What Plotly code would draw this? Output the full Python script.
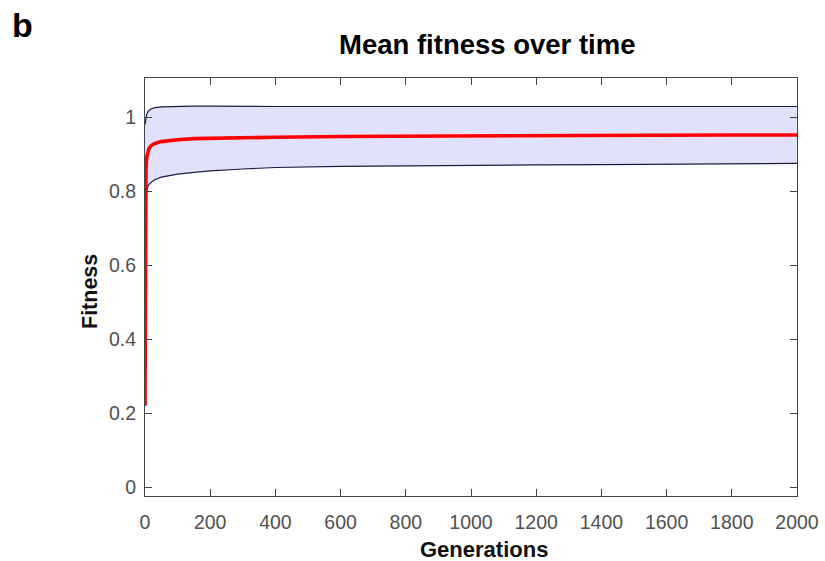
import plotly.graph_objects as go

# Data
generations = [0, 1, 2, 3, 5, 8, 12, 20, 30, 50, 75, 100, 150, 200, 300, 400,
               600, 800, 1000, 1200, 1400, 1600, 1800, 2000]
mean_fitness = [0.22, 0.65, 0.80, 0.855, 0.89, 0.906, 0.915, 0.924, 0.929, 0.934,
                0.937, 0.939, 0.942, 0.943, 0.945, 0.946, 0.948, 0.949, 0.950,
                0.950, 0.951, 0.951, 0.952, 0.952]
upper_band = [0.98, 0.99, 0.995, 1.0, 1.007, 1.013, 1.018, 1.023, 1.026, 1.028,
              1.029, 1.030, 1.030, 1.030, 1.029, 1.029, 1.029, 1.029, 1.029,
              1.029, 1.029, 1.029, 1.029, 1.029]
lower_band = [0.755, 0.765, 0.778, 0.788, 0.801, 0.811, 0.818, 0.825, 0.831, 0.838,
              0.843, 0.846, 0.851, 0.855, 0.86, 0.864, 0.867, 0.869, 0.870,
              0.871, 0.872, 0.873, 0.874, 0.875]

x_ticks = [0, 200, 400, 600, 800, 1000, 1200, 1400, 1600, 1800, 2000]
y_ticks = [0, 0.2, 0.4, 0.6, 0.8, 1]
y_ticktext = ["0", "0.2", "0.4", "0.6", "0.8", "1"]

FONT = "Liberation Sans, Arial, sans-serif"
L, R, T, B = 145, 797, 78, 496
W, H = 825, 561


def px(xp):
    return (xp - L) / (R - L)


def py(yp):
    return (B - yp) / (B - T)


band_line = "#1c1c44"
fig = go.Figure()
fig.add_trace(go.Scatter(x=generations, y=lower_band, mode="lines",
                         line=dict(color=band_line, width=1.2), showlegend=False,
                         hoverinfo="skip"))
fig.add_trace(go.Scatter(x=generations, y=upper_band, mode="lines",
                         line=dict(color=band_line, width=1.2), fill="tonexty",
                         fillcolor="rgb(225,225,252)", showlegend=False,
                         hoverinfo="skip"))
fig.add_trace(go.Scatter(x=generations, y=mean_fitness, mode="lines",
                         line=dict(color="#ff0000", width=3.6), showlegend=False))

axis_common = dict(
    showgrid=False, zeroline=False, showline=True, linecolor="#444444",
    linewidth=1, mirror="ticks", ticks="inside", ticklen=7, tickcolor="#444444",
    tickfont=dict(family=FONT, size=19.5, color="#505050"),
)

fig.update_layout(
    width=W, height=H,
    margin=dict(l=L, r=W - R, t=T, b=H - B, autoexpand=False),
    paper_bgcolor="white", plot_bgcolor="white",
    xaxis=dict(range=[0, 2000], tickvals=x_ticks, ticklabelstandoff=9, **axis_common),
    yaxis=dict(range=[-0.024, 1.106], tickvals=y_ticks, ticktext=y_ticktext,
               ticklabelstandoff=4, **axis_common),
    annotations=[
        dict(text="<b>Mean fitness over time</b>", x=px(487), y=py(45),
             xref="paper", yref="paper", showarrow=False, xanchor="center", yanchor="middle",
             font=dict(family=FONT, size=27.5, color="#000")),
        dict(text="<b>Generations</b>", x=px(484), y=py(549),
             xref="paper", yref="paper", showarrow=False, xanchor="center", yanchor="middle",
             font=dict(family=FONT, size=22, color="#111")),
        dict(text="<b>Fitness</b>", x=px(90), y=py(292), textangle=-90,
             xref="paper", yref="paper", showarrow=False, xanchor="center", yanchor="middle",
             font=dict(family=FONT, size=21.5, color="#111")),
        dict(text="<b>b</b>", x=px(22), y=py(25),
             xref="paper", yref="paper", showarrow=False, xanchor="center", yanchor="middle",
             font=dict(family=FONT, size=34, color="#000")),
    ],
)

fig.write_html("out.html", config={"displayModeBar": False},
               post_script="document.body.style.margin='0';")
